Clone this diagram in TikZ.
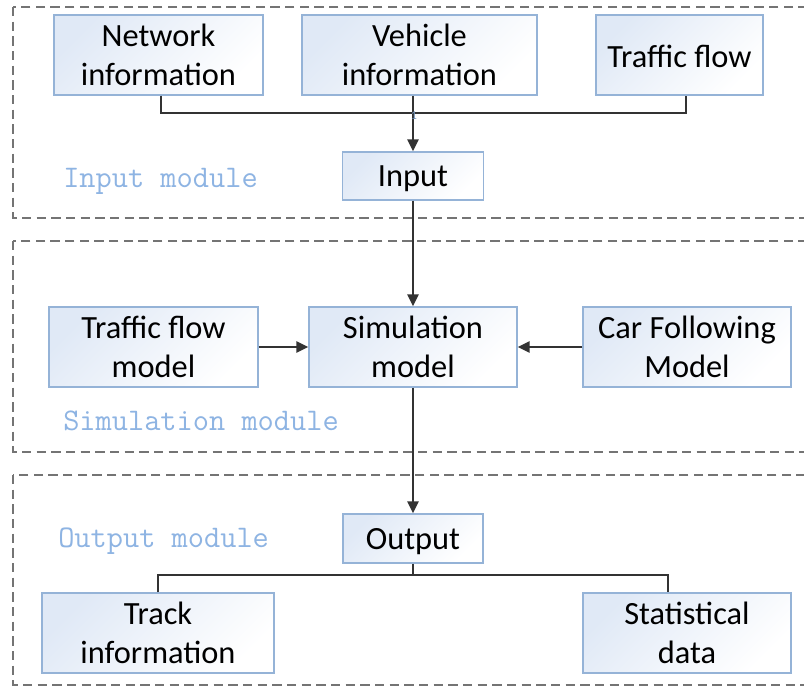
\documentclass[tikz,border=0pt]{standalone}
\usepackage{fontspec}
\setmainfont{Carlito}
\usetikzlibrary{arrows.meta}
\definecolor{boxedge}{HTML}{95B3D7}
\definecolor{boxfill}{HTML}{E0E9F6}
\definecolor{modblue}{HTML}{8EB4E3}
\definecolor{dashgray}{HTML}{747474}
\definecolor{linegray}{HTML}{333333}
\newcommand\lowr[2]{\raisebox{-#1}[\height][\depth]{#2}}
\begin{document}
\begin{tikzpicture}[x=0.75pt,y=-0.75pt,
  blk/.style={draw=boxedge, line width=1.1pt, top color=boxfill, bottom color=white, shading angle=45,
    align=center, font=\fontsize{24.3}{29.25}\selectfont, inner sep=0pt, anchor=center},
  module/.style={draw=dashgray, line width=1.5pt, dash pattern=on 7pt off 4pt},
  modlabel/.style={text=modblue, font=\ttfamily\fontsize{23.6}{26}\selectfont, anchor=west, inner sep=0pt},
  conn/.style={draw=linegray, line width=1.2pt},
  arr/.style={conn, -{Triangle[length=9pt,width=8.5pt]}}
]
\clip (0,0) rectangle (804,686);
\fill[white] (0,0) rectangle (804,686);

% module frames
\draw[module] (13,7) rectangle (830,218);
\draw[module] (13,241) rectangle (830,452);
\draw[module] (13,475) rectangle (830,685);

% module labels
\node[modlabel] (lin) at (63,181) {Input module};
\node[modlabel] (lsim) at (63,421) {Simulation module};
\node[modlabel] (lout) at (58,541) {Output module};

% boxes
\node[blk, minimum width=156.75pt, minimum height=60pt] (net) at (158.5,55) {Network\\information};
\node[blk, minimum width=176.25pt, minimum height=60pt] (veh) at (419.5,55) {Vehicle\\information};
\node[blk, minimum width=125.25pt, minimum height=60pt] (tf) at (679.5,55) {\lowr{0.75pt}{Traffic flow}};
\node[blk, minimum width=105.75pt, minimum height=36pt] (in) at (413,176) {\lowr{2.25pt}{Input}};
\node[blk, minimum width=156.75pt, minimum height=60pt] (tfm) at (153.5,347) {Traffic flow\\model};
\node[blk, minimum width=156pt, minimum height=60pt] (sim) at (413,347) {Simulation\\model};
\node[blk, minimum width=156pt, minimum height=60pt] (cfm) at (687,347) {Car Following\\Model};
\node[blk, minimum width=105pt, minimum height=36.75pt] (out) at (413,538.5) {\lowr{2.25pt}{Output}};
\node[blk, minimum width=174pt, minimum height=60pt] (trk) at (158,633) {Track\\information};
\node[blk, minimum width=156pt, minimum height=60pt] (stat) at (687,633) {Statistical\\data};

% input connectors
\coordinate (j1) at (413,113);
\draw[conn] ([xshift=1.9pt]net.south) |- ([xshift=4.9pt]tf.south |- j1) -- ([xshift=4.9pt]tf.south);
\draw[conn] (veh.south -| j1) -- (j1);
\draw[arr] (j1) -- (in.north);
\node[font=\fontsize{9}{9}\selectfont, text=modblue!80!black, inner sep=0pt] (one) at (414,116) {1};

% simulation connectors
\draw[arr] (in.south) -- (sim.north);
\draw[arr] (tfm.east) -- (sim.west);
\draw[arr] (cfm.west) -- (sim.east);
\draw[arr] (sim.south) -- (out.north);

% output connectors
\coordinate (j2) at (413,575);
\draw[conn] (out.south) -- (j2);
\draw[conn] (trk.north) |- ([xshift=-14.25pt]stat.north |- j2) -- ([xshift=-14.25pt]stat.north);
\end{tikzpicture}
\end{document}
